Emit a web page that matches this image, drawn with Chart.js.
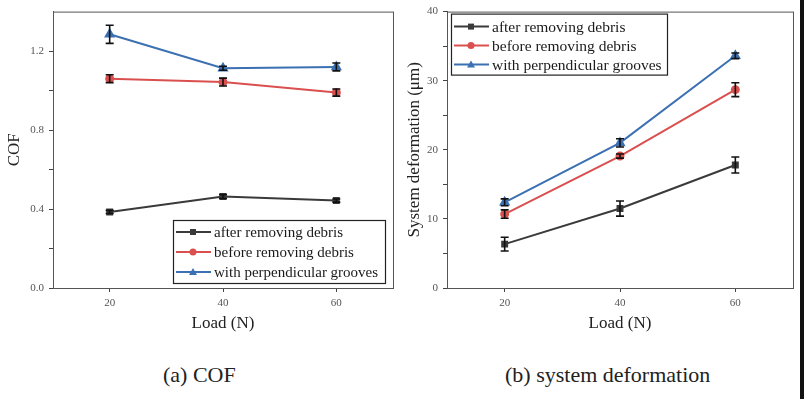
<!DOCTYPE html>
<html>
<head>
<meta charset="utf-8">
<script src="https://cdn.jsdelivr.net/npm/chart.js@4.4.0/dist/chart.umd.min.js"></script>
<style>
  body { margin: 0; background: #fff; }
  #wrap { position: relative; width: 804px; height: 399px; overflow: hidden; background: #fff; }
  .cv { position: absolute; top: 0; }
  .cap { position: absolute; top: 362px; font-family: 'Liberation Serif', serif; font-size: 22px; color: #222; white-space: nowrap; }
  #edge { position: absolute; right: 0; top: 0; width: 4px; height: 399px; background: #111; }
</style>
</head>
<body>
<div id="wrap">
  <canvas id="cofChart" class="cv" style="left:0px" width="400" height="340"></canvas>
  <canvas id="defChart" class="cv" style="left:400px" width="400" height="340"></canvas>
  <div class="cap" id="capA" style="left:163px">(a) COF</div>
  <div class="cap" id="capB" style="left:505px">(b) system deformation</div>
  <div id="edge"></div>
</div>
<script>
// Load values (N)
const loads = [20, 40, 60];
const seriesLabels = ['after removing debris', 'before removing debris', 'with perpendicular grooves'];

// COF values and error bars
const cofAfter = [0.385, 0.463, 0.443];
const cofBefore = [1.06, 1.043, 0.99];
const cofGrooves = [1.285, 1.113, 1.12];
const cofAfterErr = [0.008, 0.01, 0.008];
const cofBeforeErr = [0.02, 0.02, 0.018];
const cofGroovesErr = [0.046, 0.01, 0.02];

// System deformation values (um) and error bars
const defAfter = [6.35, 11.5, 17.8];
const defBefore = [10.7, 19.1, 28.7];
const defGrooves = [12.4, 21.0, 33.6];
const defAfterErr = [1.0, 1.1, 1.15];
const defBeforeErr = [0.6, 0.3, 1.0];
const defGroovesErr = [0.5, 0.6, 0.4];

const cofTicks = [0, 0.2, 0.4, 0.6, 0.8, 1.0, 1.2];
const defTicks = [0, 5, 10, 15, 20, 25, 30, 35, 40];
const xTicks = [20, 40, 60];

const colors = ['#3a3a3a', '#d9504f', '#3b70b2'];
const markers = ['rect', 'circle', 'triangle'];
const serif = "'Liberation Serif', 'Times New Roman', serif";

// error bars drawn from each dataset's errors through the y scale
const errorBars = {
  id: 'errorBars',
  afterDatasetsDraw(chart) {
    const ctx = chart.ctx;
    const y = chart.scales.y;
    ctx.save();
    ctx.strokeStyle = '#111';
    ctx.lineWidth = 1.6;
    chart.data.datasets.forEach((ds, i) => {
      const meta = chart.getDatasetMeta(i);
      meta.data.forEach((pt, j) => {
        const v = ds.data[j].y;
        const e = ds.errors[j];
        const top = y.getPixelForValue(v + e);
        const bot = y.getPixelForValue(v - e);
        ctx.beginPath();
        ctx.moveTo(pt.x, top); ctx.lineTo(pt.x, bot);
        ctx.moveTo(pt.x - 4, top); ctx.lineTo(pt.x + 4, top);
        ctx.moveTo(pt.x - 4, bot); ctx.lineTo(pt.x + 4, bot);
        ctx.stroke();
      });
    });
    ctx.restore();
  }
};

// frame around the plot and the boxed legend inside it
const frameLegend = {
  id: 'frameLegend',
  afterDraw(chart, args, opts) {
    const ctx = chart.ctx;
    const a = chart.chartArea;
    ctx.save();
    ctx.strokeStyle = '#555';
    ctx.lineWidth = 1;
    ctx.strokeRect(a.left + 0.5, a.top + 0.5, a.right - a.left, a.bottom - a.top);

    const w = opts.width, h = opts.height;
    const bx = opts.anchor === 'topleft' ? a.left + opts.dx : a.right - opts.dx - w;
    const by = opts.anchor === 'topleft' ? a.top + opts.dy : a.bottom - opts.dy - h;
    ctx.fillStyle = '#fff';
    ctx.fillRect(bx, by, w, h);
    ctx.strokeStyle = '#222';
    ctx.lineWidth = 1.2;
    ctx.strokeRect(bx + 0.5, by + 0.5, w, h);

    ctx.font = opts.fontSize + 'px ' + serif;
    ctx.textBaseline = 'middle';
    chart.data.datasets.forEach((ds, i) => {
      const ry = by + opts.rowTop + i * opts.rowGap;
      ctx.strokeStyle = ds.borderColor;
      ctx.lineWidth = 2;
      ctx.beginPath();
      ctx.moveTo(bx + 3, ry); ctx.lineTo(bx + 38, ry);
      ctx.stroke();
      ctx.fillStyle = ds.borderColor;
      const cx = bx + 20;
      ctx.beginPath();
      if (ds.pointStyle === 'rect') {
        ctx.rect(cx - 3, ry - 3, 6, 6);
      } else if (ds.pointStyle === 'circle') {
        ctx.arc(cx, ry, 3.5, 0, Math.PI * 2);
      } else {
        ctx.moveTo(cx, ry - 4); ctx.lineTo(cx + 4, ry + 3); ctx.lineTo(cx - 4, ry + 3); ctx.closePath();
      }
      ctx.fill();
      ctx.fillStyle = '#1a1a1a';
      ctx.fillText(ds.label, bx + 41, ry + 1);
    });
    ctx.restore();
  }
};

function makeDatasets(values, errs) {
  return values.map((vals, i) => ({
    label: seriesLabels[i],
    data: loads.map((x, j) => ({ x: x, y: vals[j] })),
    errors: errs[i],
    borderColor: colors[i],
    backgroundColor: colors[i],
    borderWidth: 2,
    pointStyle: markers[i],
    pointRadius: markers[i] === 'triangle' ? 4.5 : 3.5,
    pointHoverRadius: 4,
    tension: 0
  }));
}

function makeChart(id, values, errs, yMax, yTicks, yStep, yLabel, fmt, yWidth, padTop, legendOpts) {
  const ctx = document.getElementById(id).getContext('2d');
  return new Chart(ctx, {
    type: 'line',
    data: { datasets: makeDatasets(values, errs) },
    options: {
      responsive: false,
      animation: false,
      layout: { padding: { left: 0, top: padTop, right: 7, bottom: 0 } },
      plugins: {
        legend: { display: false },
        tooltip: { enabled: false },
        frameLegend: legendOpts
      },
      scales: {
        x: {
          type: 'linear',
          min: 10,
          max: 70,
          afterBuildTicks: (s) => { s.ticks = xTicks.map(v => ({ value: v })); },
          afterFit: (s) => { s.height = 52; },
          grid: { drawOnChartArea: false, tickLength: 4, tickColor: '#444', color: '#444' },
          border: { color: '#444', width: 1 },
          ticks: { color: '#555', padding: 5, font: { family: serif, size: 11 } },
          title: { display: true, text: 'Load (N)', color: '#222', padding: { top: 0, bottom: 6 }, font: { family: serif, size: 17 } }
        },
        y: {
          type: 'linear',
          min: 0,
          max: yMax,
          afterBuildTicks: (s) => { s.ticks = yTicks.map(v => ({ value: v })); },
          afterFit: (s) => { s.width = yWidth; },
          grid: { drawOnChartArea: false, tickLength: 4, tickColor: '#444', color: '#444' },
          border: { color: '#444', width: 1 },
          ticks: {
            color: '#555',
            padding: 5,
            font: { family: serif, size: 11 },
            callback: (v) => (Math.abs(v / yStep - Math.round(v / yStep)) < 1e-6 ? fmt(v) : '')
          },
          title: { display: true, text: yLabel, color: '#222', padding: { top: 4, bottom: 0 }, font: { family: serif, size: 17 } }
        }
      }
    },
    plugins: [errorBars, frameLegend]
  });
}

makeChart('cofChart',
  [cofAfter, cofBefore, cofGrooves],
  [cofAfterErr, cofBeforeErr, cofGroovesErr],
  1.4, cofTicks, 0.4, 'COF', (v) => v.toFixed(1), 53, 5,
  { anchor: 'bottomright', dx: 8, dy: 5, width: 212, height: 63, rowTop: 12, rowGap: 20, fontSize: 15 });

makeChart('defChart',
  [defAfter, defBefore, defGrooves],
  [defAfterErr, defBeforeErr, defGroovesErr],
  40, defTicks, 10, 'System deformation (\u03bcm)', (v) => String(v), 47, 11,
  { anchor: 'topleft', dx: 4, dy: 2, width: 216, height: 61, rowTop: 13, rowGap: 19, fontSize: 15.5 });
</script>
</body>
</html>
